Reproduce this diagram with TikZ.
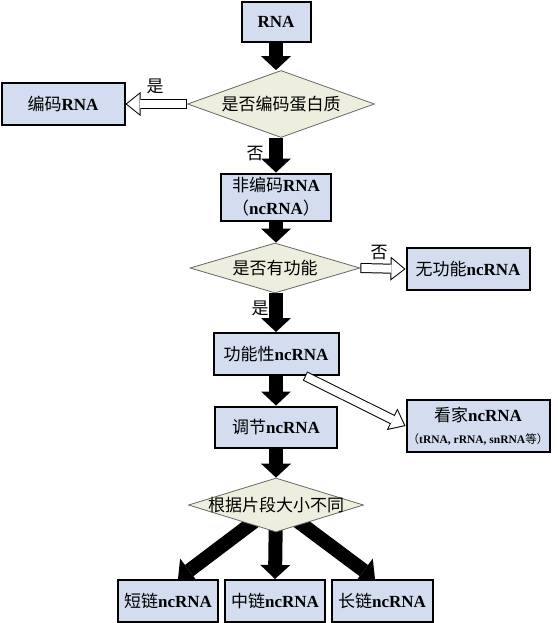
\documentclass[tikz,border=0pt]{standalone}
\usepackage{fontspec}
\setmainfont{Liberation Serif}
\newfontfamily\cjk{Noto Sans CJK SC}
\newcommand\zh[1]{{\cjk\mdseries #1}}
\usetikzlibrary{shapes.geometric,arrows.meta}
\pgfdeclarelayer{bg}
\pgfsetlayers{bg,main}
\definecolor{boxblue}{RGB}{211,221,239}
\definecolor{condfill}{RGB}{238,238,222}
\tikzset{
  box/.style={draw=black, line width=2pt, fill=boxblue, inner sep=0pt, align=center, font=\fontsize{17}{20}\selectfont\bfseries},
  cond/.style={diamond, draw=black!60, line width=0.8pt, fill=condfill, inner sep=0pt, font=\fontsize{17}{20}\selectfont},
  fat/.style={line width=14pt, -{Triangle[length=14pt,width=30pt,line width=0pt]}},
  hollow/.style={draw=white, line width=8pt, shorten >=1.6pt, shorten <=1pt,
    -{Triangle[length=12.4pt,width=19.8pt,line width=0pt]},
    preaction={draw=black, line width=10pt, shorten >=0pt, shorten <=0pt,
      -{Triangle[length=15pt,width=24pt,line width=0pt]}}},
  lbl/.style={font=\fontsize{17}{20}\selectfont\cjk}
}

\begin{document}
\begin{tikzpicture}[x=1pt,y=-1pt]
    \useasboundingbox (0,0) rectangle (557,623);

    \node[box, minimum width=69pt, minimum height=40pt] (rna) at (276,22) {RNA};
    \node[cond, aspect=2.79, minimum width=187pt, minimum height=67pt] (q1) at (281,104) {\zh{是否编码蛋白质}};
    \node[box, minimum width=123pt, minimum height=42pt] (coding) at (63,104) {\zh{编码}RNA};
    \node[box, minimum width=110pt, minimum height=47pt] (nc) at (276,197) {\zh{非编码}RNA\\[3pt]\zh{（}ncRNA\zh{）}};
    \node[cond, aspect=3.4, minimum width=170pt, minimum height=50pt] (q2) at (275,268) {\zh{是否有功能}};
    \node[box, minimum width=123pt, minimum height=42pt] (nofunc) at (468,269) {\zh{无功能}ncRNA};
    \node[box, minimum width=125pt, minimum height=42pt] (func) at (276,354) {\zh{功能性}ncRNA};
    \node[box, minimum width=122pt, minimum height=41pt] (reg) at (276,427) {\zh{调节}ncRNA};
    \node[box, minimum width=143pt, minimum height=52pt] (house) at (478,426)
        {\zh{看家}ncRNA\\[2pt]{\fontsize{11.5}{13}\selectfont\zh{（}tRNA, rRNA, snRNA\zh{等）}}};
    \node[cond, aspect=3.24, minimum width=175pt, minimum height=54pt] (q3) at (276,505) {\makebox[0pt]{\zh{根据片段大小不同}}};
    \node[box, minimum width=100pt, minimum height=42pt] (short) at (168,601) {\zh{短链}ncRNA};
    \node[box, minimum width=100pt, minimum height=42pt] (mid) at (275,601) {\zh{中链}ncRNA};
    \node[box, minimum width=101pt, minimum height=42pt] (long) at (382,601) {\zh{长链}ncRNA};

    \node[lbl] (yes1) at (155,86) {是};
    \node[lbl] (no1) at (255,154) {否};
    \node[lbl] (no2) at (379,253) {否};
    \node[lbl] (yes2) at (260,308) {是};

    \begin{pgfonlayer}{bg}
    \draw[fat] (rna.south) -- (rna.south |- q1.north);
    \draw[fat] (nc.north |- q1.south) -- (nc.north);
    \draw[fat] (nc.south) -- (nc.south |- q2.north);
    \draw[fat] (func.north |- q2.south) -- (func.north);
    \draw[fat] (func.south) -- (reg.north);
    \draw[fat] (reg.south) -- (q3.north);
    \draw[fat] (q3.center) -- ([xshift=10pt]short.north);
    \draw[fat] (q3.center) -- (mid.north);
    \draw[fat] (q3.center) -- ([xshift=-7pt]long.north);
    \end{pgfonlayer}

    \draw[hollow] (q1.west) -- (coding.east);
    \draw[hollow] (q2.east) -- (nofunc.west);
    \draw[hollow] ([xshift=29pt]func.south) -- (house.west);
\end{tikzpicture}
\end{document}
